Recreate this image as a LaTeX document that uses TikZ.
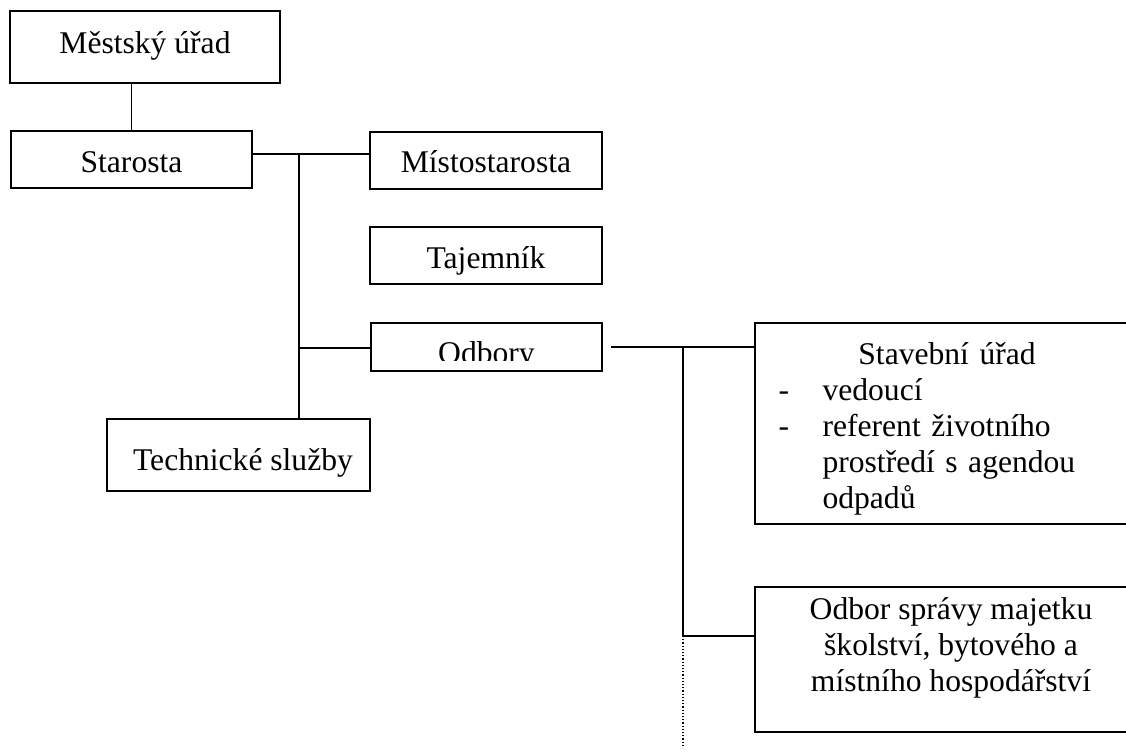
\documentclass[tikz,border=0pt]{standalone}
\usepackage{fontspec}
\setmainfont{Liberation Serif}

\begin{document}
\begin{tikzpicture}[x=0.5pt,y=-0.5pt,
  box/.style={draw,line width=0.85pt,inner sep=0pt,font=\fontsize{15.8}{18}\selectfont},
  txt/.style={inner sep=0pt,font=\fontsize{15.8}{18}\selectfont},
  link/.style={line width=0.85pt}]
  \useasboundingbox (0,0) rectangle (1126,751);
  \clip (0,0) rectangle (1126,751);

  \node[box,minimum width=135pt,minimum height=36pt,text height=21pt,text depth=15pt] (mesto) at (145,47) {Městský úřad};
  \node[box,minimum width=120.5pt,minimum height=28.5pt,text height=20.5pt,text depth=8pt] (starosta) at (131.5,159.5) {Starosta};
  \node[box,minimum width=116pt,minimum height=28.5pt,text height=20pt,text depth=8.5pt] (misto) at (486,160.5) {Místostarosta};
  \node[box,minimum width=116pt,minimum height=28.5pt,text height=20.5pt,text depth=8pt] (tajemnik) at (486,255.5) {Tajemník};
  \node[box,minimum width=115.5pt,minimum height=24pt] (odbory) at (486.5,347) {};
  \node[box,minimum width=131.5pt,minimum height=36pt,text height=25.5pt,text depth=10.5pt] (tech) at (238.5,455) {\hspace*{4.5pt}Technické služby};
  \node[box,minimum width=192.5pt,minimum height=100.5pt] (stav) at (947.5,423.5) {};
  \node[box,minimum width=196pt,minimum height=72.5pt] (sprava) at (951,659.5) {};

  % texty s vlastnim umistenim
  \begin{scope}
    \clip (371,323) rectangle (602,360);
    \node[txt,anchor=base] (odbtxt) at (486.5,363) {Odbory};
  \end{scope}
  \node[txt,text width=192.5pt,anchor=north west] (stavtxt) at ([yshift=-10pt]stav.north west)
    {\parindent=0pt\centering Stavební úřad\par
     \raggedright\leftskip=34pt
     \leavevmode\llap{\makebox[22pt][l]{-}}vedoucí\par
     \leavevmode\llap{\makebox[22pt][l]{-}}referent životního\\prostředí s agendou\\odpadů\par};
  \node[txt,align=center,anchor=north] (spravatxt) at ([yshift=-5.6pt]sprava.north)
    {Odbor správy majetku\\školství, bytového a\\místního hospodářství};

  \coordinate (j1) at (299,154);
  \coordinate (j2) at (299,348);
  \coordinate (j3) at (611,347);
  \coordinate (j4) at (683,347);
  \coordinate (j5) at (683,636);
  \coordinate (jend) at (683,748);

  \draw[link] (starosta.north) -- (starosta.north |- mesto.south);
  \draw[link] (starosta.east |- j1) -- (misto.west |- j1);
  \draw[link] (j1) -- (j1 |- tech.north);
  \draw[link] (j2) -- (odbory.west |- j2);
  \draw[link] (j3) -- (stav.west |- j3);
  \draw[link] (j4) -- (j5) -- (sprava.west |- j5);
  \draw[line width=0.6pt,densely dotted] (j5) -- (jend);
\end{tikzpicture}
\end{document}
